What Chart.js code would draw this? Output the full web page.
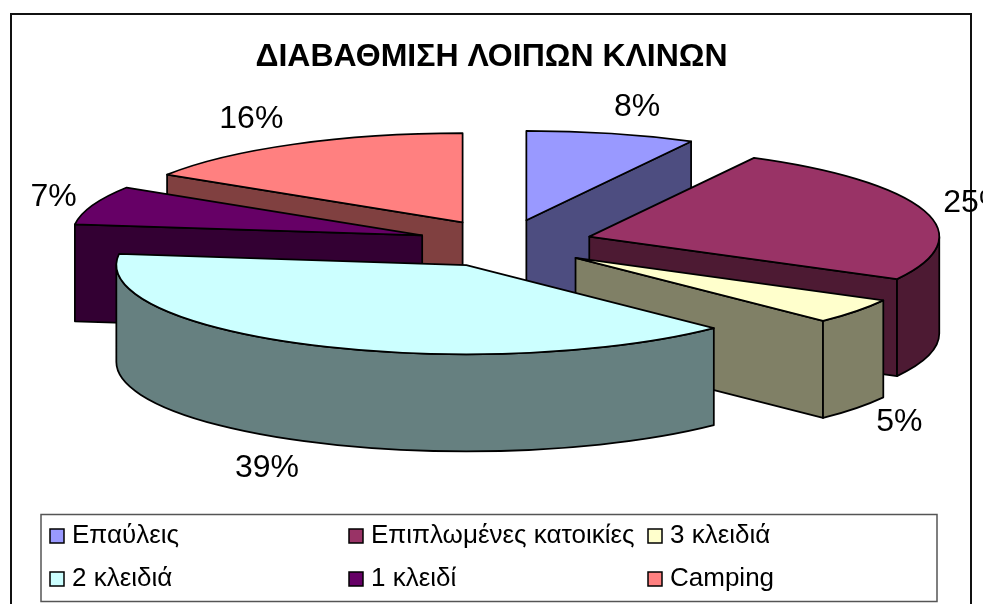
<!DOCTYPE html>
<html>
<head>
<meta charset="utf-8">
<style>html,body{margin:0;padding:0;background:#fff}#wrap{width:983px;height:604px;position:relative}</style>
<script src="https://cdn.jsdelivr.net/npm/chart.js@4"></script>
</head>
<body>
<div id="wrap"><canvas id="c" width="983" height="604"></canvas></div>
<script>
const categories = ['Επαύλεις', 'Επιπλωμένες κατοικίες', '3 κλειδιά', '2 κλειδιά', '1 κλειδί', 'Camping'];
const shares = [7.8, 25.1, 4.6, 39.48, 7.02, 16.0];
const topColours = ['#9999FF', '#993366', '#FFFFCC', '#CCFFFF', '#660066', '#FF8080'];
const wallColours = ['#4D4D80', '#4D1A33', '#808066', '#668080', '#330033', '#804040'];
const chartTitle = 'ΔΙΑΒΑΘΜΙΣΗ ΛΟΙΠΩΝ ΚΛΙΝΩΝ';

const FONT = '"Liberation Sans", Arial, sans-serif';
const squash = 0.255, depth = 97, explodeX = 88, explodeY = 24, pieShiftX = 13.5;
const labelRx = 480, labelRy = 545;
const labelNudge = [[10,-2],[-20,0],[-9,-1],[-13,3],[22,1],[-7,-3]];

function geom(arc) {
  const p = arc.getProps(['x','y','startAngle','endAngle','outerRadius'], true);
  const mid = (p.startAngle + p.endAngle) / 2;
  const x = p.x + pieShiftX;
  return {cx: x + Math.cos(mid) * explodeX,
          cy: p.y + Math.sin(mid) * explodeY,
          r: p.outerRadius, a0: p.startAngle, a1: p.endAngle, mid, x, y: p.y};
}
function ell(g, a) {
  return [g.cx + Math.cos(a) * g.r, g.cy + Math.sin(a) * g.r * squash];
}
function pathArc(ctx, g, a0, a1, dy, rev) {
  ctx.save();
  ctx.translate(g.cx, g.cy + (dy || 0));
  ctx.scale(1, squash);
  ctx.arc(0, 0, g.r, a0, a1, !!rev);
  ctx.restore();
}
function drawWall(ctx, g, a, colour) {
  const e = ell(g, a);
  ctx.beginPath();
  ctx.moveTo(g.cx, g.cy);
  ctx.lineTo(e[0], e[1]);
  ctx.lineTo(e[0], e[1] + depth);
  ctx.lineTo(g.cx, g.cy + depth);
  ctx.closePath();
  ctx.fillStyle = colour; ctx.fill(); ctx.stroke();
}
function drawSlice(ctx, g, i) {
  ctx.lineWidth = 1.75; ctx.strokeStyle = '#000'; ctx.lineJoin = 'round';
  // radial faces turned towards the viewer
  if (-Math.cos(g.a0) > 1e-6) drawWall(ctx, g, g.a0, wallColours[i]);
  if (Math.cos(g.a1) > 1e-6) drawWall(ctx, g, g.a1, wallColours[i]);
  // front part of the rim (canvas angles 0..PI, or 2PI..3PI)
  for (const base of [0, Math.PI * 2]) {
    const l = Math.max(g.a0, base), h = Math.min(g.a1, base + Math.PI);
    if (h > l) {
      ctx.beginPath();
      pathArc(ctx, g, l, h, 0);
      pathArc(ctx, g, h, l, depth, true);
      ctx.closePath();
      ctx.fillStyle = wallColours[i]; ctx.fill(); ctx.stroke();
    }
  }
  // top
  ctx.beginPath();
  ctx.moveTo(g.cx, g.cy);
  pathArc(ctx, g, g.a0, g.a1, 0);
  ctx.closePath();
  ctx.fillStyle = topColours[i]; ctx.fill(); ctx.stroke();
}

const pie3d = {
  id: 'pie3d',
  beforeDraw(chart) {
    const ctx = chart.ctx;
    ctx.save();
    ctx.strokeStyle = '#111'; ctx.lineWidth = 2;
    ctx.beginPath();
    ctx.moveTo(11, 610); ctx.lineTo(11, 14); ctx.lineTo(971, 14); ctx.lineTo(971, 610);
    ctx.stroke();
    ctx.restore();
  },
  beforeDatasetsDraw(chart) {
    const ctx = chart.ctx, arcs = chart.getDatasetMeta(0).data;
    const items = arcs.map((a, i) => ({g: geom(a), i}));
    items.sort((p, q) => Math.sin(p.g.mid) - Math.sin(q.g.mid));
    ctx.save();
    items.forEach(it => drawSlice(ctx, it.g, it.i));
    ctx.restore();
    // percentage labels
    ctx.save();
    ctx.font = '32px ' + FONT;
    ctx.fillStyle = '#000'; ctx.textAlign = 'center'; ctx.textBaseline = 'middle';
    const total = shares.reduce((s, v) => s + v, 0);
    arcs.forEach((a, i) => {
      const g = geom(a);
      const txt = Math.round(shares[i] / total * 100) + '%';
      const hw = ctx.measureText(txt).width / 2;
      const c = Math.cos(g.mid), s = Math.sin(g.mid);
      const x = g.x + labelRx * c + hw * c + labelNudge[i][0];
      const y = g.y + labelRy * squash * s + (s > 0 ? depth : 0) + labelNudge[i][1];
      ctx.fillText(txt, x, y);
    });
    ctx.restore();
    // legend
    ctx.save();
    ctx.strokeStyle = '#555'; ctx.lineWidth = 1.5;
    ctx.strokeRect(41, 514.5, 896, 87);
    ctx.font = '26px ' + FONT; ctx.textBaseline = 'middle'; ctx.textAlign = 'left';
    const colX = [50, 349, 648], rowY = [536, 579];
    categories.forEach((name, i) => {
      const x = colX[i % 3], y = rowY[Math.floor(i / 3)];
      ctx.fillStyle = topColours[i];
      ctx.strokeStyle = '#000'; ctx.lineWidth = 1.5;
      ctx.fillRect(x, y - 7, 14, 14); ctx.strokeRect(x, y - 7, 14, 14);
      ctx.fillStyle = '#000';
      ctx.fillText(name, x + 22, y);
    });
    ctx.restore();
    return false;
  }
};

new Chart(document.getElementById('c'), {
  type: 'pie',
  data: {labels: categories, datasets: [{data: shares, backgroundColor: topColours, borderColor: '#000', borderWidth: 1}]},
  plugins: [pie3d],
  options: {
    responsive: false, animation: false, radius: 350,
    layout: {padding: {bottom: 193.4}},
    events: [],
    plugins: {
      legend: {display: false}, tooltip: {enabled: false},
      title: {display: true, text: chartTitle, color: '#000', padding: {top: 38, bottom: 0},
              font: {family: FONT, size: 32, weight: 'bold', lineHeight: 1.2}}
    }
  }
});
</script>
</body>
</html>
